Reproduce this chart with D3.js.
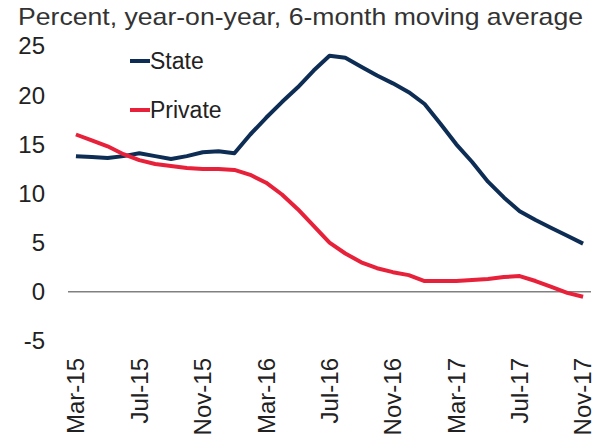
<!DOCTYPE html>
<html>
<head>
<meta charset="utf-8">
<script src="https://cdn.jsdelivr.net/npm/d3@7"></script>
<style>
  body { margin: 0; background: #fff; }
  svg { display: block; font-family: Arial, "Liberation Sans", sans-serif; }
</style>
</head>
<body>
<div id="chart"></div>
<script>
// monthly, Mar-15 .. Nov-17
const months = ['Mar-15','Apr-15','May-15','Jun-15','Jul-15','Aug-15','Sep-15','Oct-15','Nov-15','Dec-15',
  'Jan-16','Feb-16','Mar-16','Apr-16','May-16','Jun-16','Jul-16','Aug-16','Sep-16','Oct-16','Nov-16','Dec-16',
  'Jan-17','Feb-17','Mar-17','Apr-17','May-17','Jun-17','Jul-17','Aug-17','Sep-17','Oct-17','Nov-17'];
const tickLabels = ['Mar-15','Jul-15','Nov-15','Mar-16','Jul-16','Nov-16','Mar-17','Jul-17','Nov-17'];
const yTicks = [-5, 0, 5, 10, 15, 20, 25];

const stateVals = [13.8, 13.7, 13.6, 13.8, 14.1, 13.8, 13.5, 13.8, 14.2, 14.3,
  14.1, 16.0, 17.7, 19.3, 20.8, 22.5, 24.0, 23.8, 22.9, 22.0, 21.2, 20.3,
  19.1, 17.1, 15.0, 13.2, 11.2, 9.6, 8.2, 7.3, 6.5, 5.7, 4.9];
const privateVals = [16.0, 15.4, 14.8, 14.0, 13.4, 13.0, 12.8, 12.6, 12.5, 12.5,
  12.4, 11.9, 11.1, 9.9, 8.4, 6.7, 5.0, 3.9, 3.0, 2.4, 2.0, 1.7,
  1.1, 1.1, 1.1, 1.2, 1.3, 1.5, 1.6, 1.1, 0.5, -0.1, -0.5];

const series = [
  { name: 'State', values: stateVals, color: '#0e2d55' },
  { name: 'Private', values: privateVals, color: '#e8213b' }
];

const W = 596, H = 445;
const svg = d3.select('#chart').append('svg').attr('width', W).attr('height', H);

const x = d3.scalePoint().domain(months).range([68, 591]).padding(0.5);
const y = d3.scaleLinear().domain([-5, 25]).range([341, 46]);

// title
svg.append('text')
  .attr('x', 18).attr('y', 25)
  .attr('font-size', 24)
  .attr('fill', '#333')
  .attr('textLength', 565).attr('lengthAdjust', 'spacingAndGlyphs')
  .text('Percent, year-on-year, 6-month moving average');

// y tick labels (no axis line in the original)
svg.append('g').selectAll('text').data(yTicks).enter().append('text')
  .attr('x', 45).attr('y', d => y(d)).attr('dy', '0.35em')
  .attr('text-anchor', 'end')
  .attr('font-size', 24)
  .attr('fill', '#222')
  .text(d => d);

// zero line
svg.append('line')
  .attr('x1', 68).attr('x2', 591)
  .attr('y1', y(0)).attr('y2', y(0))
  .attr('stroke', '#808080').attr('stroke-width', 1.5);

// x labels, rotated
svg.append('g').selectAll('text').data(tickLabels).enter().append('text')
  .attr('transform', d => `translate(${x(d)},358) rotate(-90)`)
  .attr('dy', '0.35em')
  .attr('text-anchor', 'end')
  .attr('font-size', 24)
  .attr('fill', '#222')
  .text(d => d);

// lines
const line = d3.line().x((d, i) => x(months[i])).y(d => y(d));
series.forEach(s => {
  svg.append('path')
    .attr('d', line(s.values))
    .attr('fill', 'none')
    .attr('stroke', s.color)
    .attr('stroke-width', 4)
    .attr('stroke-linejoin', 'round');
});

// legend
const legend = svg.append('g');
series.forEach((s, i) => {
  const ly = 61 + i * 49;
  legend.append('line')
    .attr('x1', 130).attr('x2', 150).attr('y1', ly).attr('y2', ly)
    .attr('stroke', s.color).attr('stroke-width', 4);
  legend.append('text')
    .attr('x', 150).attr('y', ly).attr('dy', '0.35em')
    .attr('font-size', 23)
    .attr('fill', '#222')
    .text(s.name);
});
</script>
</body>
</html>
